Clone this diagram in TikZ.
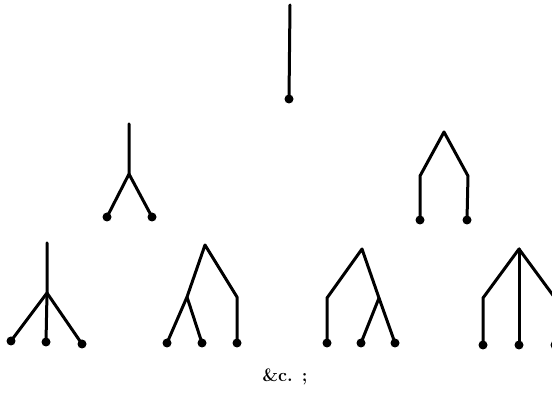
\documentclass[tikz,border=0pt]{standalone}
\begin{document}
\begin{tikzpicture}[x=1pt,y=-1pt,
  branch/.style={line width=3pt,line cap=round,line join=round},
  leaf/.style={circle,fill=black,inner sep=0pt,minimum size=9pt}]
\useasboundingbox (0,0) rectangle (552,395);
\clip (0,0) rectangle (552,395);
% tree 1
\coordinate (a0) at (290,5);
\node[leaf] (a1) at (289,99) {};
\draw[branch] (a0) -- (a1.center);
% tree 2
\coordinate (b0) at (129,124);
\coordinate (bj) at (129,174);
\node[leaf] (b1) at (107,217) {};
\node[leaf] (b2) at (152,217) {};
\draw[branch] (b0) -- (bj) -- (b1.center);
\draw[branch] (bj) -- (b2.center);
% tree 3
\coordinate (c0) at (444,132);
\coordinate (cl) at (420,176);
\coordinate (cr) at (468,176);
\node[leaf] (c1) at (420,220) {};
\node[leaf] (c2) at (467,220) {};
\draw[branch] (c1.center) -- (cl) -- (c0) -- (cr) -- (c2.center);
% tree 4
\coordinate (d0) at (47,243);
\coordinate (dj) at (47,293);
\node[leaf] (d1) at (11,341) {};
\node[leaf] (d2) at (46,342) {};
\node[leaf] (d3) at (82,344) {};
\draw[branch] (d0) -- (dj) -- (d1.center);
\draw[branch] (dj) -- (d2.center);
\draw[branch] (dj) -- (d3.center);
% tree 5
\coordinate (e0) at (205,245);
\coordinate (ej) at (187,297);
\coordinate (er) at (237,297);
\node[leaf] (e1) at (167,343) {};
\node[leaf] (e2) at (202,343) {};
\node[leaf] (e3) at (237,343) {};
\draw[branch] (e1.center) -- (ej) -- (e0) -- (er) -- (e3.center);
\draw[branch] (ej) -- (e2.center);
% tree 6
\coordinate (f0) at (362,249);
\coordinate (fl) at (327,298);
\coordinate (fj) at (379,298);
\node[leaf] (f1) at (327,343) {};
\node[leaf] (f2) at (361,343) {};
\node[leaf] (f3) at (395,343) {};
\draw[branch] (f1.center) -- (fl) -- (f0) -- (fj) -- (f3.center);
\draw[branch] (fj) -- (f2.center);
% tree 7
\coordinate (g0) at (519,249);
\coordinate (gl) at (483,298);
\coordinate (gr) at (555,298);
\node[leaf] (g1) at (483,345) {};
\node[leaf] (g2) at (519,345) {};
\node[leaf] (g3) at (555,345) {};
\draw[branch] (g1.center) -- (gl) -- (g0) -- (gr) -- (g3.center);
\draw[branch] (g0) -- (g2.center);
% caption
\node[font=\fontsize{18}{20}\selectfont\bfseries] (cap) at (285,377) {\&c. ;};
\end{tikzpicture}
\end{document}
